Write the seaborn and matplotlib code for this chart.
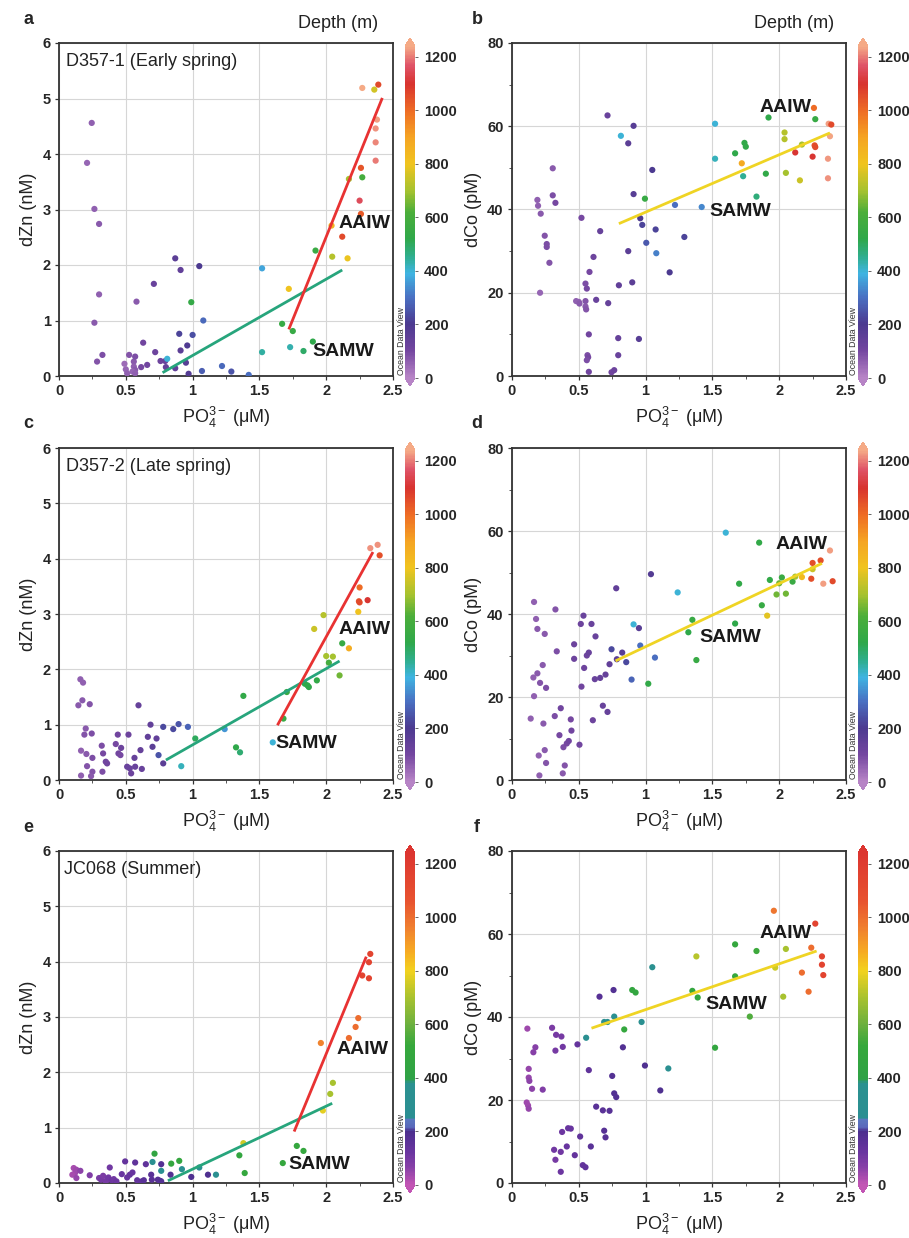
import numpy as np
import pandas as pd
import matplotlib
matplotlib.use("Agg")
import matplotlib.pyplot as plt
import seaborn as sns
from matplotlib.colors import LinearSegmentedColormap, Normalize
from matplotlib.cm import ScalarMappable
from matplotlib.ticker import MultipleLocator, FuncFormatter

# ---------------- data ----------------
# Panel a: D357-1 dZn
a_po4 = [0.245,0.21,0.265,0.30,0.30,0.265,0.285,0.325,0.58,0.49,0.50,0.51,0.525,0.56,0.57,0.56,0.57,0.55,0.57,0.615,
         0.63,0.66,0.71,0.72,0.76,0.795,0.81,0.80,0.87,0.87,0.91,0.90,0.91,0.95,0.96,0.97,0.99,1.00,1.05,1.08,
         1.07,1.22,1.29,1.42,1.52,1.52,1.67,1.72,1.73,1.75,1.83,1.90,1.92,2.045,2.04,2.12,2.16,2.17,2.25,2.26,
         2.26,2.27,2.27,2.36,2.39,2.38,2.37,2.37,2.37]
a_zn = [4.56,3.84,3.01,2.74,1.47,0.96,0.26,0.38,1.34,0.22,0.12,0.05,0.38,0.26,0.35,0.17,0.11,0.08,0.05,0.16,
        0.60,0.20,1.66,0.43,0.27,0.27,0.31,0.16,0.14,2.12,1.91,0.76,0.46,0.24,0.55,0.04,1.33,0.74,1.98,1.00,
        0.09,0.18,0.08,0.02,1.94,0.43,0.94,1.57,0.52,0.81,0.45,0.62,2.26,2.15,2.71,2.51,2.12,3.55,3.16,3.75,
        2.92,3.58,5.19,5.16,5.25,4.62,4.46,4.21,3.88]
a_depth = [60,50,60,70,60,70,80,90,70,40,50,60,80,70,90,60,70,50,60,100,
           110,110,130,120,120,130,400,140,150,160,150,220,160,170,190,180,540,240,200,290,
           270,290,250,300,370,440,550,800,430,550,490,520,560,720,850,1060,790,700,1150,1040,
           1030,600,1240,760,1060,1230,1220,1210,1200]

# Panel b: D357-1 dCo
b_po4 = [0.19,0.195,0.215,0.21,0.245,0.26,0.26,0.28,0.305,0.305,0.325,0.52,0.48,0.50,0.505,0.55,0.56,0.55,0.55,0.555,
         0.58,0.575,0.565,0.57,0.56,0.575,0.61,0.63,0.66,0.715,0.72,0.745,0.765,0.795,0.795,0.80,0.815,0.87,0.87,0.91,
         0.91,0.90,0.95,0.96,0.975,0.995,1.005,1.05,1.075,1.08,1.18,1.22,1.29,1.42,1.52,1.52,1.67,1.72,1.73,1.74,
         1.75,1.83,1.90,1.92,2.04,2.04,2.05,2.12,2.155,2.17,2.25,2.26,2.265,2.27,2.27,2.37,2.39,2.38,2.365,2.365]
b_co = [42.3,40.9,39.0,20.0,33.7,31.7,31.0,27.2,49.9,43.4,41.6,38.0,18.0,17.8,17.4,22.2,21.0,18.0,16.7,16.0,
        25.0,10.0,5.0,4.5,3.8,1.0,28.6,18.3,34.8,62.6,17.5,0.9,1.4,5.0,9.1,21.8,57.7,30.0,55.9,60.1,
        43.7,22.5,8.9,37.9,36.3,42.6,32.0,49.5,35.2,29.5,24.9,41.1,33.4,40.6,60.6,52.2,53.5,51.1,48.0,56.0,
        55.1,43.1,48.6,62.1,58.5,56.9,48.8,53.7,47.0,55.6,52.7,64.4,55.4,55.0,61.7,60.6,60.4,57.6,52.2,47.5]
b_depth = [60,60,70,50,80,90,90,80,70,90,100,100,60,60,70,90,100,80,70,80,
           100,110,90,100,90,110,120,130,140,130,140,110,120,130,140,150,400,160,160,170,
           170,160,170,200,220,550,260,200,220,320,200,300,220,330,400,420,520,880,450,530,
           530,470,530,520,720,720,700,1100,750,700,1100,1000,1050,1060,550,1230,1060,1235,1225,1220]

# Panel c: D357-2 dZn
c_po4 = [0.16,0.18,0.175,0.145,0.23,0.20,0.19,0.245,0.165,0.205,0.21,0.25,0.25,0.24,0.165,0.32,0.33,0.35,0.36,0.325,
         0.425,0.44,0.445,0.46,0.465,0.51,0.52,0.53,0.54,0.565,0.57,0.595,0.61,0.62,0.665,0.685,0.70,0.73,0.745,0.78,
         0.78,0.855,0.895,0.915,0.965,1.02,1.24,1.325,1.355,1.38,1.60,1.68,1.705,1.84,1.86,1.87,1.93,1.91,1.98,2.00,
         2.05,2.02,2.12,2.10,2.17,2.24,2.245,2.25,2.25,2.31,2.33,2.385,2.40]
c_zn = [1.82,1.76,1.44,1.35,1.37,0.93,0.82,0.84,0.53,0.47,0.25,0.40,0.15,0.07,0.08,0.62,0.48,0.33,0.30,0.15,
        0.65,0.82,0.48,0.45,0.58,0.24,0.82,0.21,0.12,0.40,0.24,1.35,0.54,0.20,0.78,1.00,0.60,0.75,0.45,0.30,
        0.96,0.92,1.01,0.25,0.96,0.75,0.92,0.59,0.50,1.52,0.68,1.11,1.59,1.74,1.71,1.68,1.80,2.73,2.98,2.24,
        2.23,2.12,2.47,1.89,2.38,3.04,3.23,3.21,3.48,3.25,4.19,4.25,4.06]
c_depth = [60,60,70,70,80,70,80,90,60,70,80,90,80,70,60,90,100,110,110,90,
           100,110,110,100,120,130,120,130,120,140,130,140,140,130,150,150,160,150,250,160,
           230,230,250,420,280,500,350,520,480,530,400,550,550,520,520,520,530,750,720,700,
           700,600,550,650,870,800,1050,1060,1000,1100,1220,1220,1050]

# Panel d: D357-2 dCo
d_po4 = [0.165,0.18,0.19,0.245,0.325,0.335,0.16,0.19,0.23,0.21,0.255,0.165,0.14,0.235,0.20,0.245,0.255,0.205,0.32,0.365,
         0.355,0.385,0.395,0.38,0.41,0.425,0.44,0.445,0.465,0.465,0.505,0.515,0.52,0.535,0.54,0.56,0.575,0.595,0.605,0.62,
         0.625,0.66,0.68,0.70,0.715,0.73,0.745,0.78,0.785,0.825,0.855,0.895,0.91,0.95,0.96,1.04,1.07,1.02,1.24,1.32,
         1.35,1.38,1.60,1.67,1.70,1.85,1.87,1.91,1.93,1.98,2.00,2.02,2.05,2.10,2.12,2.17,2.24,2.25,2.25,2.31,
         2.33,2.38,2.40]
d_co = [42.9,38.8,36.4,35.2,41.1,31.0,24.7,25.7,27.7,23.4,22.2,20.2,14.8,13.6,5.9,7.2,4.1,1.1,15.4,17.3,
        10.8,7.9,3.5,1.6,8.8,9.4,14.6,11.9,32.7,29.2,8.5,37.6,22.5,39.6,27.0,30.0,30.7,37.6,14.4,24.3,
        34.6,24.6,17.9,25.4,16.4,27.9,31.5,46.2,29.1,30.7,28.4,24.2,37.5,36.6,32.4,49.6,29.5,23.2,45.2,35.6,
        38.6,28.9,59.6,37.7,47.3,57.2,42.1,39.6,48.2,44.7,47.4,48.8,44.9,47.8,49.0,48.9,48.5,52.3,50.8,52.9,
        47.3,55.3,47.9]
d_depth = [60,60,70,70,80,90,60,70,70,80,90,60,60,70,60,70,80,60,90,110,
           100,90,80,70,100,110,100,110,120,120,110,120,110,130,120,120,130,130,120,130,
           130,140,130,140,140,150,230,150,160,170,230,280,400,170,300,180,300,530,400,520,
           550,550,400,520,530,530,550,780,530,650,650,560,650,560,700,830,1050,1050,750,1050,
           1230,1230,1060]

# Panel e: JC068 dZn
e_po4 = [0.11,0.12,0.10,0.13,0.13,0.16,0.23,0.30,0.315,0.33,0.36,0.38,0.35,0.37,0.395,0.41,0.43,0.47,0.495,0.51,
         0.53,0.55,0.57,0.585,0.62,0.635,0.65,0.69,0.70,0.715,0.695,0.74,0.755,0.765,0.765,0.765,0.835,0.84,0.90,0.92,
         0.99,1.05,1.115,1.175,1.35,1.38,1.39,1.675,1.78,1.83,1.96,1.975,2.03,2.05,2.17,2.22,2.24,2.27,2.32,2.32,
         2.33]
e_zn = [0.27,0.18,0.15,0.09,0.24,0.22,0.14,0.09,0.06,0.13,0.06,0.28,0.03,0.10,0.05,0.07,0.03,0.16,0.39,0.10,
        0.15,0.19,0.37,0.05,0.03,0.05,0.34,0.15,0.38,0.53,0.06,0.06,0.04,0.34,0.22,0.03,0.15,0.35,0.40,0.25,
        0.11,0.28,0.15,0.15,0.50,0.72,0.18,0.36,0.67,0.58,2.53,1.31,1.61,1.81,2.62,2.82,2.98,3.75,3.99,3.70,
        4.14]
e_depth = [30,40,30,50,40,60,80,90,100,90,100,110,100,110,120,110,120,130,140,130,
           140,130,150,140,150,160,150,160,300,450,160,170,170,180,300,180,180,480,480,330,
           190,330,190,330,470,750,500,500,500,500,950,780,700,700,1000,1000,1000,1150,1150,1150,
           1150]

# Panel f: JC068 dCo
f_po4 = [0.115,0.125,0.125,0.13,0.15,0.11,0.12,0.125,0.16,0.175,0.23,0.30,0.33,0.37,0.325,0.38,0.315,0.325,0.365,0.365,
         0.375,0.41,0.42,0.44,0.47,0.49,0.51,0.53,0.55,0.555,0.575,0.59,0.63,0.655,0.68,0.69,0.70,0.69,0.715,0.73,
         0.75,0.76,0.765,0.765,0.78,0.83,0.84,0.90,0.925,0.97,0.995,1.05,1.11,1.17,1.35,1.38,1.39,1.52,1.67,1.67,
         1.78,1.83,1.96,1.97,2.03,2.05,2.17,2.22,2.24,2.27,2.32,2.32,2.33]
f_co = [37.2,27.5,25.4,24.6,22.7,19.4,18.7,17.9,31.5,32.7,22.5,37.4,35.7,35.3,31.9,32.8,8.0,5.6,7.5,2.7,
        12.3,8.8,13.2,13.1,6.7,33.4,11.2,4.3,3.8,35.0,27.2,8.8,18.4,44.9,17.5,12.6,11.0,38.8,38.8,17.4,
        25.8,46.5,40.1,21.6,20.7,32.7,37.0,46.5,45.9,38.8,28.3,52.0,22.3,27.6,46.3,54.6,44.7,32.6,57.5,49.8,
        40.1,55.9,65.6,51.9,44.9,56.4,50.7,46.1,56.7,62.5,54.6,52.6,50.1]
f_depth = [40,50,50,60,60,40,40,50,70,70,80,90,100,100,100,110,110,100,110,120,
           120,130,130,130,140,140,150,140,150,330,150,160,160,170,160,170,170,330,330,170,
           180,180,330,180,180,180,500,470,470,330,190,350,190,330,480,720,480,470,500,500,
           560,530,980,750,700,700,1000,1000,1000,1150,1150,1150,1150]

# regression lines (end points)
a_samw_x, a_samw_y = [0.775, 2.12], [0.06, 1.91]
a_aaiw_x, a_aaiw_y = [1.72, 2.42], [0.84, 5.01]
b_line_x, b_line_y = [0.80, 2.38], [36.6, 58.4]
c_samw_x, c_samw_y = [0.80, 2.10], [0.36, 2.15]
c_aaiw_x, c_aaiw_y = [1.635, 2.35], [0.99, 4.12]
d_line_x, d_line_y = [0.775, 2.32], [28.7, 52.2]
e_samw_x, e_samw_y = [0.815, 2.045], [0.04, 1.44]
e_aaiw_x, e_aaiw_y = [1.76, 2.30], [0.93, 4.09]
f_line_x, f_line_y = [0.595, 2.28], [37.3, 55.9]

cruise_titles = ["D357-1 (Early spring)", "D357-2 (Late spring)", "JC068 (Summer)"]
panel_letters = ["a", "b", "c", "d", "e", "f"]
cbar_ticks = [0, 200, 400, 600, 800, 1000, 1200]

# ---------------- style ----------------
sns.set_theme(style="white")
plt.rcParams["font.family"] = ["Liberation Sans", "DejaVu Sans"]
plt.rcParams["mathtext.fontset"] = "custom"
plt.rcParams["mathtext.rm"] = "Liberation Sans"
plt.rcParams["mathtext.it"] = "Liberation Sans:italic"
plt.rcParams["mathtext.bf"] = "Liberation Sans:bold"

VMAX = 1240
def mk_cmap(stops, name):
    return LinearSegmentedColormap.from_list(name, [(v / VMAX, c) for v, c in stops])

cmap_spring = mk_cmap([(0, "#b784c6"), (100, "#7446a0"), (200, "#4c3a90"), (300, "#4a70c2"),
                       (390, "#3fb4e2"), (450, "#2fae90"), (520, "#2fa84a"), (620, "#4cae3a"),
                       (700, "#a6c22f"), (800, "#f0c41f"), (900, "#f5a423"), (1000, "#ee6c25"),
                       (1100, "#d8332f"), (1170, "#df5468"), (1240, "#f5aa86")], "spring")
cmap_summer = mk_cmap([(0, "#c255b4"), (60, "#8a42a8"), (120, "#6a35a0"), (200, "#4b2f8e"),
                       (215, "#5a68bb"), (245, "#5a78c0"), (250, "#2b8f92"), (380, "#2b9190"),
                       (395, "#2fa246"), (520, "#36a83c"), (600, "#6cb03e"), (700, "#a8c22f"),
                       (800, "#f2d21f"), (870, "#f6ac22"), (960, "#f0802f"), (1060, "#e8532f"),
                       (1240, "#dc3530")], "summer")
norm = Normalize(0, VMAX)

fig = plt.figure(figsize=(9.09, 12.38), dpi=100)
W, H = 909.0, 1238.0

cols = [59, 512]
rows = [(43, 376), (448, 780), (851, 1183)]
ax_w = 334

def bold_ticks(ax):
    for lab in ax.get_xticklabels() + ax.get_yticklabels():
        lab.set_fontweight("bold")

panels = [
    (a_po4, a_zn, a_depth, "dZn (nM)", [(a_samw_x, a_samw_y, "#27a57c"), (a_aaiw_x, a_aaiw_y, "#e83232")],
     (2.09, 2.75), (1.895, 0.44), cmap_spring),
    (b_po4, b_co, b_depth, "dCo (pM)", [(b_line_x, b_line_y, "#efd424")],
     (1.855, 64.6), (1.475, 39.6), cmap_spring),
    (c_po4, c_zn, c_depth, "dZn (nM)", [(c_samw_x, c_samw_y, "#27a57c"), (c_aaiw_x, c_aaiw_y, "#e83232")],
     (2.095, 2.72), (1.62, 0.66), cmap_spring),
    (d_po4, d_co, d_depth, "dCo (pM)", [(d_line_x, d_line_y, "#efd424")],
     (1.97, 56.8), (1.40, 34.4), cmap_spring),
    (e_po4, e_zn, e_depth, "dZn (nM)", [(e_samw_x, e_samw_y, "#27a57c"), (e_aaiw_x, e_aaiw_y, "#e83232")],
     (2.075, 2.42), (1.72, 0.33), cmap_summer),
    (f_po4, f_co, f_depth, "dCo (pM)", [(f_line_x, f_line_y, "#efd424")],
     (1.85, 60.2), (1.445, 42.9), cmap_summer),
]

xlab = "PO$_4^{3-}$ (μM)"

CB_INNER = 332.0   # pixel height of the colour bar body (0..1240 m)
CB_TRI = 8.0       # pixel height of each extension triangle

for i, (px, py, dep, ylab, lines, aaiw, samw, cmap) in enumerate(panels):
    r, c = divmod(i, 2)
    top, bot = rows[r]
    left = cols[c]
    ax = fig.add_axes([left / W, 1 - bot / H, ax_w / W, (bot - top) / H])
    df = pd.DataFrame({"po4": px, "val": py, "depth": dep})
    sns.scatterplot(data=df, x="po4", y="val", hue="depth", palette=cmap, hue_norm=norm,
                    s=20, linewidth=0, legend=False, ax=ax, zorder=3)
    for lx, ly, lc in lines:
        ax.plot(lx, ly, color=lc, lw=2.0, zorder=4, solid_capstyle="butt")
    ax.set_xlim(0, 2.5)
    ax.xaxis.set_major_locator(MultipleLocator(0.5))
    ax.xaxis.set_minor_locator(MultipleLocator(0.25))
    if c == 0:
        ax.set_ylim(0, 6)
        ax.yaxis.set_major_locator(MultipleLocator(1))
    else:
        ax.set_ylim(0, 80)
        ax.yaxis.set_major_locator(MultipleLocator(20))
        ax.yaxis.set_minor_locator(MultipleLocator(10))
    ax.xaxis.set_major_formatter(FuncFormatter(lambda v, p: f"{v:g}"))
    ax.grid(True, which="major", color="#d6d6d6", lw=0.8, zorder=0)
    ax.set_axisbelow(True)
    for sp in ax.spines.values():
        sp.set_color("#333333")
        sp.set_linewidth(1.3)
    ax.tick_params(axis="both", which="major", direction="out", length=3, width=0.9,
                   color="#333333", labelsize=10.5, pad=3, bottom=True, left=True)
    ax.tick_params(axis="both", which="minor", direction="out", length=2, width=0.7,
                   color="#555555", bottom=True, left=True)
    bold_ticks(ax)
    ax.set_xlabel(xlab, fontsize=13, labelpad=5, color="#222222")
    ax.set_ylabel(ylab, fontsize=13, labelpad=4, color="#222222")
    ax.text(aaiw[0], aaiw[1], "AAIW", fontsize=14, fontweight="bold", ha="left", va="center",
            color="#1a1a1a", zorder=6)
    ax.text(samw[0], samw[1], "SAMW", fontsize=14, fontweight="bold", ha="left", va="center",
            color="#1a1a1a", zorder=6)
    if c == 0:
        ax.text(0.022 if r < 2 else 0.015, 0.945, cruise_titles[r], transform=ax.transAxes,
                fontsize=13, ha="left", va="center", color="#222222")
    # panel letter
    fig.text((28 if c == 0 else 477) / W, 1 - (top - 24) / H, panel_letters[i],
             fontsize=13, fontweight="bold", ha="center", va="center")
    # colorbar (triangles are drawn inside the cax, so enlarge it by the triangle size)
    cb_left = left + ax_w + 12
    inner_bot = bot + 2
    cax_bot = inner_bot + CB_TRI
    cax_h = CB_INNER + 2 * CB_TRI
    cax = fig.add_axes([cb_left / W, 1 - cax_bot / H, 10 / W, cax_h / H])
    cb = fig.colorbar(ScalarMappable(norm=norm, cmap=cmap), cax=cax, extend="both",
                      extendfrac=CB_TRI / CB_INNER, ticks=cbar_ticks)
    cb.outline.set_visible(False)
    cax.tick_params(length=2.5, width=0.7, color="#666666", labelsize=10.5, pad=4)
    for lab in cax.get_yticklabels():
        lab.set_fontweight("bold")
    fig.text((cb_left - 4) / W, 1 - (inner_bot - 3) / H, "Ocean Data View", rotation=90,
             fontsize=6.3, ha="center", va="bottom", color="#333333")
    if r == 0:
        fig.text((left + ax_w - 55 + (3 if c else 0)) / W, 1 - 24 / H, "Depth (m)",
                 fontsize=13, ha="center", va="center", color="#222222")

fig.savefig("out.png", dpi=100)
